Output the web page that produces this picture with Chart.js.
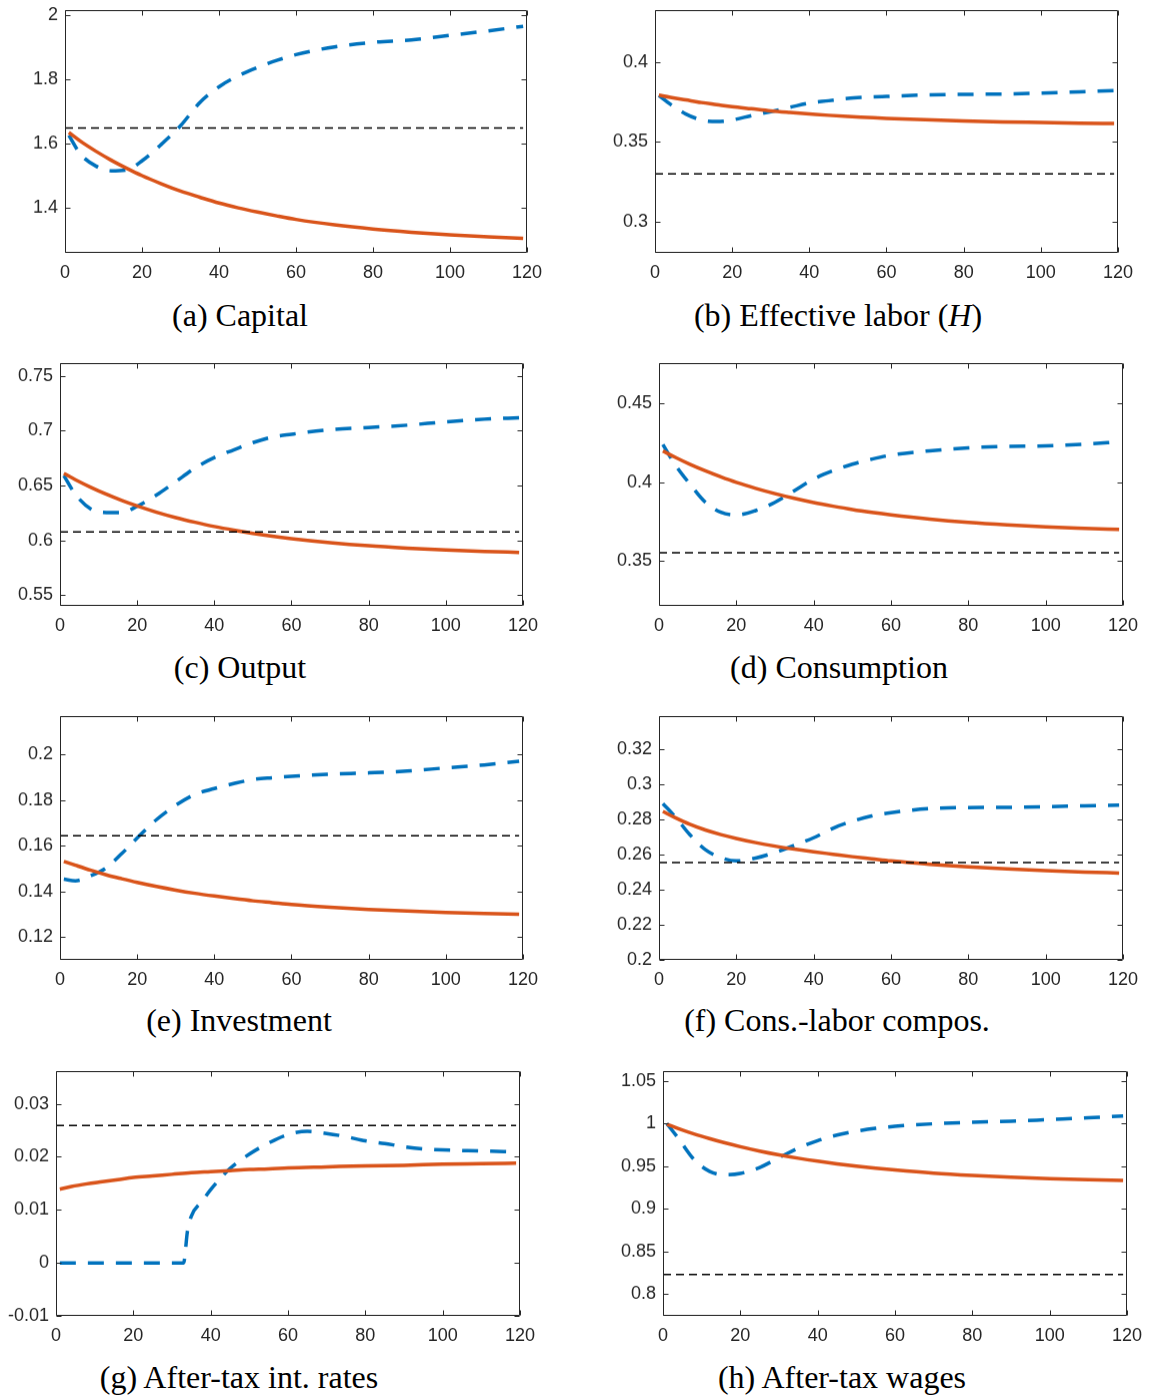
<!DOCTYPE html>
<html>
<head>
<meta charset="utf-8">
<script src="https://cdn.jsdelivr.net/npm/chart.js@4.4.1/dist/chart.umd.min.js"></script>
<style>
  body { margin: 0; background: #fff; width: 1152px; height: 1395px; position: relative; overflow: hidden; }
  canvas { position: absolute; }
  .cap { position: absolute; width: 500px; text-align: center; font-family: "Liberation Serif", "DejaVu Serif", serif; font-size: 32px; color: #000; line-height: 1; }
</style>
</head>
<body>
<script>
// ---- data ----
const periods = [1, 4, 8, 12, 16, 20, 25, 30, 35, 40, 45, 50, 55, 60, 70, 80, 90, 100, 110, 119];
const ratePeriods = [1, 10, 20, 30, 33, 34, 35, 38, 40, 43, 45, 50, 55, 60, 65, 70, 75, 80, 85, 90, 95, 100, 110, 119];
const xTicks = [0, 20, 40, 60, 80, 100, 120];

const capitalSolid  = [1.634, 1.607, 1.576, 1.548, 1.523, 1.500, 1.475, 1.452, 1.433, 1.415, 1.400, 1.387, 1.375, 1.364, 1.347, 1.334, 1.324, 1.316, 1.310, 1.305];
const capitalDashed = [1.625, 1.567, 1.530, 1.515, 1.518, 1.546, 1.597, 1.655, 1.727, 1.776, 1.810, 1.836, 1.858, 1.876, 1.900, 1.914, 1.922, 1.936, 1.950, 1.964];
const capitalBase = 1.648;
const capitalTicks = [1.4, 1.6, 1.8, 2];

const laborSolid  = [0.3792, 0.3778, 0.3762, 0.3746, 0.3733, 0.3720, 0.3707, 0.3694, 0.3684, 0.3675, 0.3666, 0.3659, 0.3653, 0.3647, 0.3638, 0.3631, 0.3625, 0.3621, 0.3617, 0.3615];
const laborDashed = [0.379, 0.3735, 0.3674, 0.3637, 0.3627, 0.3637, 0.3664, 0.3689, 0.3716, 0.3743, 0.3757, 0.3772, 0.3779, 0.3784, 0.3793, 0.3797, 0.3799, 0.3805, 0.3813, 0.382];
const laborBase = 0.33;
const laborTicks = [0.3, 0.35, 0.4];

const outputSolid  = [0.6610, 0.6553, 0.6483, 0.6420, 0.6364, 0.6313, 0.6256, 0.6207, 0.6164, 0.6125, 0.6092, 0.6063, 0.6037, 0.6015, 0.5978, 0.5949, 0.5928, 0.5911, 0.5898, 0.5889];
const outputDashed = [0.659, 0.6418, 0.6285, 0.6253, 0.6253, 0.631, 0.6413, 0.6535, 0.666, 0.6755, 0.6825, 0.6892, 0.6942, 0.6968, 0.701, 0.703, 0.7051, 0.7082, 0.7106, 0.7119];
const outputBase = 0.6076;
const outputTicks = [0.55, 0.6, 0.65, 0.7, 0.75];

const consSolid  = [0.4198, 0.4160, 0.4113, 0.4071, 0.4033, 0.3998, 0.3960, 0.3926, 0.3896, 0.3869, 0.3846, 0.3825, 0.3807, 0.3791, 0.3764, 0.3743, 0.3727, 0.3714, 0.3705, 0.3698];
const consDashed = [0.424, 0.4117, 0.3987, 0.3871, 0.3807, 0.379, 0.3818, 0.3871, 0.3945, 0.4019, 0.4072, 0.4114, 0.4146, 0.4172, 0.4199, 0.4218, 0.4227, 0.4231, 0.4242, 0.4256];
const consBase = 0.3549;
const consTicks = [0.35, 0.4, 0.45];

const invSolid  = [0.1532, 0.1515, 0.1493, 0.1473, 0.1456, 0.1440, 0.1422, 0.1406, 0.1392, 0.1380, 0.1369, 0.1359, 0.1351, 0.1343, 0.1331, 0.1321, 0.1314, 0.1308, 0.1303, 0.1300];
const invDashed = [0.1454, 0.1447, 0.1469, 0.1504, 0.1566, 0.1635, 0.1715, 0.1778, 0.1826, 0.1851, 0.1873, 0.1891, 0.1899, 0.1905, 0.1914, 0.192, 0.1928, 0.1942, 0.1955, 0.1971];
const invBase = 0.1644;
const invTicks = [0.12, 0.14, 0.16, 0.18, 0.2];

const compSolid  = [0.2846, 0.2812, 0.2772, 0.2740, 0.2714, 0.2692, 0.2668, 0.2648, 0.2631, 0.2616, 0.2602, 0.2588, 0.2576, 0.2564, 0.2545, 0.2530, 0.2518, 0.2508, 0.2500, 0.2495];
const compDashed = [0.289, 0.282, 0.2713, 0.2628, 0.2582, 0.2564, 0.258, 0.2612, 0.2652, 0.2696, 0.275, 0.279, 0.282, 0.2839, 0.2862, 0.2868, 0.2869, 0.2872, 0.2878, 0.2882];
const compBase = 0.2554;
const compTicks = [0.2, 0.22, 0.24, 0.26, 0.28, 0.3, 0.32];

const rateSolid  = [0.0139, 0.0144, 0.0149, 0.0153, 0.0157, 0.0161, 0.0164, 0.0167, 0.0170, 0.0172, 0.0174, 0.0176, 0.0177, 0.0179, 0.0181, 0.0183, 0.0184, 0.0186, 0.0187, 0.0188];
const rateDashed = [0, 0, 0, 0, 0, 0.006, 0.0088, 0.0118, 0.0138, 0.0163, 0.0178, 0.0205, 0.0226, 0.0242, 0.0248, 0.0244, 0.0238, 0.023, 0.0225, 0.0219, 0.0215, 0.0213, 0.0211, 0.0209];
const rateBase = 0.0259;
const rateTicks = [-0.01, 0, 0.01, 0.02, 0.03];

const wageSolid  = [0.9992, 0.9942, 0.9880, 0.9825, 0.9774, 0.9729, 0.9678, 0.9633, 0.9593, 0.9558, 0.9527, 0.9500, 0.9476, 0.9455, 0.9419, 0.9392, 0.9370, 0.9354, 0.9341, 0.9331];
const wageDashed = [1.0, 0.9825, 0.958, 0.944, 0.9398, 0.9414, 0.9485, 0.96, 0.9712, 0.98, 0.9865, 0.9912, 0.9945, 0.9968, 0.9998, 1.0016, 1.0028, 1.0048, 1.0068, 1.009];
const wageBase = 0.8227;
const wageTicks = [0.8, 0.85, 0.9, 0.95, 1, 1.05];

// ---- layout ----
const Y_AXIS_W = 54, PAD_TOP = 10, PAD_RIGHT = 24, X_AXIS_H = 36;
const panels = [
  { solid: capitalSolid, dashed: capitalDashed, base: capitalBase, ticks: capitalTicks, yMin: 1.26, yMax: 2.015, box: [65, 10, 527, 253], cap: '(a) Capital', capX: 240, capY: 299 },
  { solid: laborSolid, dashed: laborDashed, base: laborBase, ticks: laborTicks, yMin: 0.2806, yMax: 0.4325, box: [655, 10, 1118, 253], cap: '(b) Effective labor (<i>H</i>)', capX: 838, capY: 299 },
  { solid: outputSolid, dashed: outputDashed, base: outputBase, ticks: outputTicks, yMin: 0.54, yMax: 0.762, box: [60, 363, 523, 606], cap: '(c) Output', capX: 240, capY: 651 },
  { solid: consSolid, dashed: consDashed, base: consBase, ticks: consTicks, yMin: 0.321, yMax: 0.476, box: [659, 363, 1123, 606], cap: '(d) Consumption', capX: 839, capY: 651 },
  { solid: invSolid, dashed: invDashed, base: invBase, ticks: invTicks, yMin: 0.11, yMax: 0.217, box: [60, 716, 523, 960], cap: '(e) Investment', capX: 239, capY: 1004 },
  { solid: compSolid, dashed: compDashed, base: compBase, ticks: compTicks, yMin: 0.2, yMax: 0.339, box: [659, 716, 1123, 960], cap: '(f) Cons.-labor compos.', capX: 837, capY: 1004 },
  { solid: rateSolid, dashed: rateDashed, dashedX: ratePeriods, base: rateBase, ticks: rateTicks, yMin: -0.01, yMax: 0.0362, box: [56, 1071, 520, 1316], cap: '(g) After-tax int. rates', capX: 239, capY: 1361 },
  { solid: wageSolid, dashed: wageDashed, base: wageBase, ticks: wageTicks, yMin: 0.774, yMax: 1.062, box: [663, 1071, 1127, 1316], cap: '(h) After-tax wages', capX: 842, capY: 1361 }
];

const AXIS_COLOR = '#262626';
const tickFont = { family: '"Liberation Sans", Arial, sans-serif', size: 18 };

// box with inward ticks on all four sides (MATLAB style)
const boxPlugin = {
  id: 'matlabBox',
  afterDraw(chart) {
    const { ctx, chartArea: a, scales } = chart;
    const L = Math.round(a.left) + 0.5, R = Math.round(a.right) - 0.5;
    const T = Math.round(a.top) + 0.5, B = Math.round(a.bottom) - 0.5;
    ctx.save();
    ctx.strokeStyle = AXIS_COLOR;
    ctx.lineWidth = 1;
    ctx.beginPath();
    ctx.rect(L, T, R - L, B - T);
    scales.x.ticks.forEach(t => {
      const px = Math.round(scales.x.getPixelForValue(t.value)) + 0.5;
      ctx.moveTo(px, B); ctx.lineTo(px, B - 5);
      ctx.moveTo(px, T); ctx.lineTo(px, T + 5);
    });
    scales.y.ticks.forEach(t => {
      const py = Math.round(scales.y.getPixelForValue(t.value)) + 0.5;
      ctx.moveTo(L, py); ctx.lineTo(L + 5, py);
      ctx.moveTo(R, py); ctx.lineTo(R - 5, py);
    });
    ctx.stroke();
    ctx.restore();
  }
};

function makeConfig(p) {
  const dashedX = p.dashedX || periods;
  return {
    type: 'line',
    data: {
      datasets: [
        {
          data: [{ x: 0, y: p.base }, { x: 119, y: p.base }],
          borderColor: '#000000', borderWidth: 1.5, borderDash: [8, 5], pointRadius: 0
        },
        {
          data: periods.map((x, i) => ({ x, y: p.solid[i] })),
          borderColor: '#D95319', borderWidth: 3.5, pointRadius: 0,
          cubicInterpolationMode: 'monotone'
        },
        {
          data: dashedX.map((x, i) => ({ x, y: p.dashed[i] })),
          borderColor: '#0072BD', borderWidth: 3.5, borderDash: [16, 12], pointRadius: 0,
          cubicInterpolationMode: 'monotone'
        }
      ]
    },
    options: {
      responsive: false,
      maintainAspectRatio: false,
      animation: false,
      layout: { padding: { top: PAD_TOP, right: PAD_RIGHT, left: 0, bottom: 0 } },
      plugins: { legend: { display: false }, tooltip: { enabled: false } },
      scales: {
        x: {
          type: 'linear', min: 0, max: 120,
          grid: { display: false, drawTicks: false },
          border: { display: false },
          afterBuildTicks: s => { s.ticks = xTicks.map(v => ({ value: v })); },
          afterFit: s => { s.height = X_AXIS_H; },
          ticks: { font: tickFont, color: AXIS_COLOR, padding: 9, maxRotation: 0, callback: v => String(v) }
        },
        y: {
          type: 'linear', min: p.yMin, max: p.yMax,
          grid: { display: false, drawTicks: false },
          border: { display: false },
          afterBuildTicks: s => { s.ticks = p.ticks.map(v => ({ value: v })); },
          afterFit: s => { s.width = Y_AXIS_W; },
          ticks: { font: tickFont, color: AXIS_COLOR, padding: 7, callback: v => String(v) }
        }
      }
    },
    plugins: [boxPlugin]
  };
}

function placeCanvas(canvas, w, h) {
  canvas.width = w; canvas.height = h;
  canvas.style.width = w + 'px'; canvas.style.height = h + 'px';
}

panels.forEach(p => {
  const [l, t, r, b] = p.box;
  const canvas = document.createElement('canvas');
  document.body.appendChild(canvas);

  // first pass: measure how Chart.js lays out the plot area, then correct the canvas size
  let w = Y_AXIS_W + (r - l) + PAD_RIGHT;
  let h = PAD_TOP + (b - t) + X_AXIS_H;
  placeCanvas(canvas, w, h);
  let chart = new Chart(canvas, makeConfig(p));
  let ca = chart.chartArea;
  w += (r - l) - (ca.right - ca.left);
  h += (b - t) - (ca.bottom - ca.top);
  chart.destroy();

  placeCanvas(canvas, w, h);
  chart = new Chart(canvas, makeConfig(p));
  ca = chart.chartArea;
  canvas.style.left = (l - ca.left) + 'px';
  canvas.style.top = (t - ca.top) + 'px';

  const cap = document.createElement('div');
  cap.className = 'cap';
  cap.innerHTML = p.cap;
  cap.style.left = (p.capX - 250) + 'px';
  cap.style.top = p.capY + 'px';
  document.body.appendChild(cap);
});
</script>
</body>
</html>
